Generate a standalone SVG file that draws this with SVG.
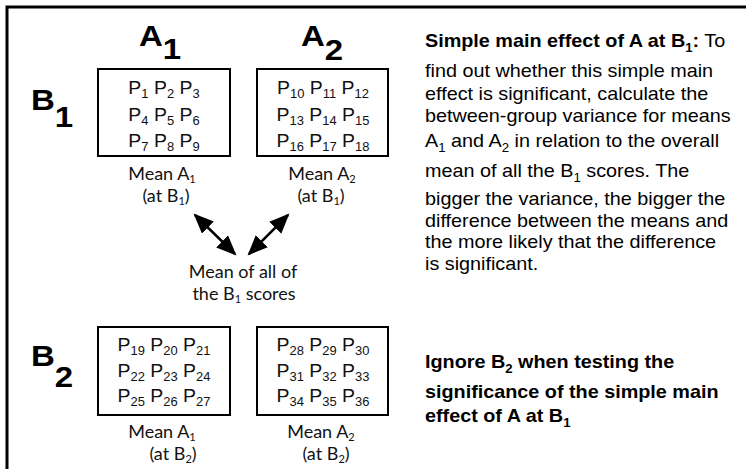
<svg xmlns="http://www.w3.org/2000/svg" width="746" height="469" viewBox="0 0 746 469">
<style>
.big{font-family:"Liberation Sans",Arial,sans-serif;font-weight:bold;font-size:30px;fill:#000}
.p{font-family:"Liberation Sans",Arial,sans-serif;font-size:18px;fill:#111;text-anchor:middle}
.s{font-size:12px}
.mean{font-family:Lato,"Liberation Sans",sans-serif;font-size:18px;fill:#111;text-anchor:middle}
.ms{font-size:11px}
.body{font-family:"Liberation Sans",Arial,sans-serif;font-size:18px;fill:#000}
.b{font-weight:bold}
.box{fill:#fff;stroke:#000;stroke-width:2}
.arr{stroke:#000;stroke-width:2.5;fill:none;marker-start:url(#ah);marker-end:url(#ah)}
</style>
<defs>
<marker id="ah" markerUnits="userSpaceOnUse" markerWidth="22" markerHeight="20" refX="18" refY="8.5" orient="auto-start-reverse">
<path d="M0,0 L20,8.5 L0,17 z" fill="#000"/>
</marker>
</defs>
<rect x="7" y="7" width="780" height="500" fill="none" stroke="#000" stroke-width="3"/>

<g id="label-A1" transform="translate(139,46) scale(1.1,1)"><text class="big" x="0" y="0">A<tspan dy="13">1</tspan></text></g>
<g id="label-A2" transform="translate(301,46) scale(1.1,1)"><text class="big" x="0" y="0">A<tspan dy="14">2</tspan></text></g>
<g id="label-B1" transform="translate(31,110) scale(1.1,1)"><text class="big" x="0" y="0">B<tspan dy="17">1</tspan></text></g>
<g id="label-B2" transform="translate(31,366) scale(1.1,1)"><text class="big" x="0" y="0">B<tspan dy="21">2</tspan></text></g>

<g id="cell-A1B1">
<rect class="box" x="98" y="69" width="132" height="87"/>
<g transform="translate(164,0) scale(1.08,1)">
<text class="p" x="0" y="94">P<tspan class="s" dy="4">1</tspan><tspan dy="-4"> P</tspan><tspan class="s" dy="4">2</tspan><tspan dy="-4"> P</tspan><tspan class="s" dy="4">3</tspan></text>
<text class="p" x="0" y="121">P<tspan class="s" dy="4">4</tspan><tspan dy="-4"> P</tspan><tspan class="s" dy="4">5</tspan><tspan dy="-4"> P</tspan><tspan class="s" dy="4">6</tspan></text>
<text class="p" x="0" y="147">P<tspan class="s" dy="4">7</tspan><tspan dy="-4"> P</tspan><tspan class="s" dy="4">8</tspan><tspan dy="-4"> P</tspan><tspan class="s" dy="4">9</tspan></text>
</g>
<text class="mean" x="162" y="180">Mean A<tspan class="ms" dy="3">1</tspan></text>
<text class="mean" x="166" y="202">(at B<tspan class="ms" dy="3">1</tspan><tspan dy="-3">)</tspan></text>
</g>

<g id="cell-A2B1">
<rect class="box" x="257" y="69" width="131" height="87"/>
<g transform="translate(323,0) scale(1.08,1)">
<text class="p" x="0" y="94">P<tspan class="s" dy="4">10</tspan><tspan dy="-4"> P</tspan><tspan class="s" dy="4">11</tspan><tspan dy="-4"> P</tspan><tspan class="s" dy="4">12</tspan></text>
<text class="p" x="0" y="121">P<tspan class="s" dy="4">13</tspan><tspan dy="-4"> P</tspan><tspan class="s" dy="4">14</tspan><tspan dy="-4"> P</tspan><tspan class="s" dy="4">15</tspan></text>
<text class="p" x="0" y="147">P<tspan class="s" dy="4">16</tspan><tspan dy="-4"> P</tspan><tspan class="s" dy="4">17</tspan><tspan dy="-4"> P</tspan><tspan class="s" dy="4">18</tspan></text>
</g>
<text class="mean" x="322" y="180">Mean A<tspan class="ms" dy="3">2</tspan></text>
<text class="mean" x="321" y="202">(at B<tspan class="ms" dy="3">1</tspan><tspan dy="-3">)</tspan></text>
</g>

<g id="overall-mean">
<text class="mean" x="243" y="278">Mean of all of</text>
<text class="mean" x="244" y="300">the B<tspan class="ms" dy="3">1</tspan><tspan dy="-3"> scores</tspan></text>
</g>

<g id="cell-A1B2">
<rect class="box" x="98" y="327" width="132" height="88"/>
<g transform="translate(164,0) scale(1.08,1)">
<text class="p" x="0" y="351">P<tspan class="s" dy="4">19</tspan><tspan dy="-4"> P</tspan><tspan class="s" dy="4">20</tspan><tspan dy="-4"> P</tspan><tspan class="s" dy="4">21</tspan></text>
<text class="p" x="0" y="377">P<tspan class="s" dy="4">22</tspan><tspan dy="-4"> P</tspan><tspan class="s" dy="4">23</tspan><tspan dy="-4"> P</tspan><tspan class="s" dy="4">24</tspan></text>
<text class="p" x="0" y="402">P<tspan class="s" dy="4">25</tspan><tspan dy="-4"> P</tspan><tspan class="s" dy="4">26</tspan><tspan dy="-4"> P</tspan><tspan class="s" dy="4">27</tspan></text>
</g>
<text class="mean" x="162" y="438">Mean A<tspan class="ms" dy="3">1</tspan></text>
<text class="mean" x="173" y="460">(at B<tspan class="ms" dy="3">2</tspan><tspan dy="-3">)</tspan></text>
</g>

<g id="cell-A2B2">
<rect class="box" x="257" y="327" width="131" height="88"/>
<g transform="translate(323,0) scale(1.08,1)">
<text class="p" x="0" y="351">P<tspan class="s" dy="4">28</tspan><tspan dy="-4"> P</tspan><tspan class="s" dy="4">29</tspan><tspan dy="-4"> P</tspan><tspan class="s" dy="4">30</tspan></text>
<text class="p" x="0" y="377">P<tspan class="s" dy="4">31</tspan><tspan dy="-4"> P</tspan><tspan class="s" dy="4">32</tspan><tspan dy="-4"> P</tspan><tspan class="s" dy="4">33</tspan></text>
<text class="p" x="0" y="402">P<tspan class="s" dy="4">34</tspan><tspan dy="-4"> P</tspan><tspan class="s" dy="4">35</tspan><tspan dy="-4"> P</tspan><tspan class="s" dy="4">36</tspan></text>
</g>
<text class="mean" x="321" y="438">Mean A<tspan class="ms" dy="3">2</tspan></text>
<text class="mean" x="326" y="460">(at B<tspan class="ms" dy="3">2</tspan><tspan dy="-3">)</tspan></text>
</g>

<g id="connectors">
<line class="arr" x1="195" y1="215" x2="235" y2="254"/>
<line class="arr" x1="288" y1="215" x2="249" y2="254"/>
</g>

<g id="note-simple-effect" transform="translate(425,0) scale(1.1,1)">
<text class="body" x="0" y="47"><tspan class="b">Simple main effect of A at B</tspan><tspan class="b s" dy="5">1</tspan><tspan class="b" dy="-5">:</tspan> To</text>
<text class="body" x="0" y="77">find out whether this simple main</text>
<text class="body" x="0" y="100">effect is significant, calculate the</text>
<text class="body" x="0" y="122">between-group variance for means</text>
<text class="body" x="0" y="147">A<tspan class="s" dy="5">1</tspan><tspan dy="-5"> and A</tspan><tspan class="s" dy="5">2</tspan><tspan dy="-5"> in relation to the overall</tspan></text>
<text class="body" x="0" y="177">mean of all the B<tspan class="s" dy="5">1</tspan><tspan dy="-5"> scores. The</tspan></text>
<text class="body" x="0" y="205">bigger the variance, the bigger the</text>
<text class="body" x="0" y="227">difference between the means and</text>
<text class="body" x="0" y="248">the more likely that the difference</text>
<text class="body" x="0" y="270">is significant.</text>
</g>

<g id="note-ignore-B2" transform="translate(425,0) scale(1.1,1)">
<text class="body b" x="0" y="368">Ignore B<tspan class="s" dy="5">2</tspan><tspan dy="-5"> when testing the</tspan></text>
<text class="body b" x="0" y="398">significance of the simple main</text>
<text class="body b" x="0" y="422">effect of A at B<tspan class="s" dy="5">1</tspan></text>
</g>
</svg>
